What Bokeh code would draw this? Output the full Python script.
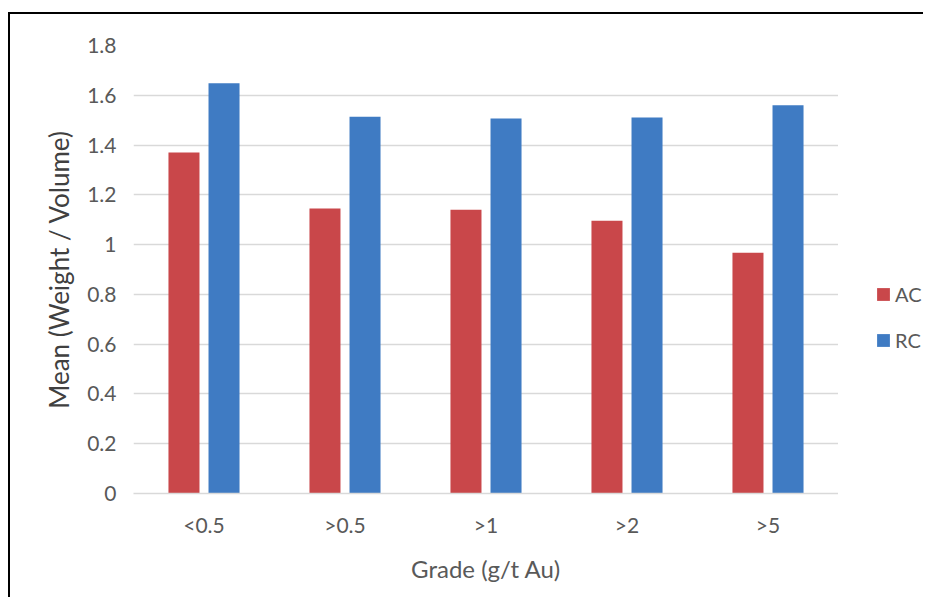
from bokeh.plotting import figure
from bokeh.layouts import row
from bokeh.models import ColumnDataSource, FactorRange, Range1d, FixedTicker, Legend, LegendItem
from bokeh.transform import dodge
from bokeh.embed import file_html
from bokeh.resources import INLINE

categories = ["<0.5", ">0.5", ">1", ">2", ">5"]
ac_values = [1.37, 1.145, 1.14, 1.096, 0.967]
rc_values = [1.648, 1.514, 1.507, 1.511, 1.56]
y_ticks = [0, 0.2, 0.4, 0.6, 0.8, 1, 1.2, 1.4, 1.6, 1.8]
y_tick_labels = ["0", "0.2", "0.4", "0.6", "0.8", "1", "1.2", "1.4", "1.6", "1.8"]
series_names = ["AC", "RC"]
x_title = "Grade (g/t Au)"
y_title = "Mean (Weight / Volume)"

FONT = "Lato"
TEXT = "#595959"
AC_COLOR = "#C9474A"
RC_COLOR = "#3F7BC3"
BORDER_TOP_LEFT = ("linear-gradient(#000,#000) 8px 12px / 2px 100% no-repeat, "
                   "linear-gradient(#000,#000) 8px 12px / 100% 2px no-repeat, #ffffff")
BORDER_TOP = "linear-gradient(#000,#000) 0px 12px / 100% 2px no-repeat, #ffffff"

src = ColumnDataSource(data=dict(cat=categories, ac=ac_values, rc=rc_values))

# ---- main chart ----
p = figure(
    width=838, height=597,
    x_range=FactorRange(*categories, range_padding=0),
    y_range=Range1d(0, 1.8),
    output_backend="svg", toolbar_location=None,
    min_border_left=133, min_border_right=0, min_border_top=45, min_border_bottom=104,
)
p.styles = {"background": BORDER_TOP_LEFT}
p.outline_line_color = None
p.background_fill_color = "white"
p.border_fill_alpha = 0

p.vbar(x=dodge("cat", -0.142, range=p.x_range), top="ac", width=0.22, source=src,
       fill_color=AC_COLOR, line_color=None)
p.vbar(x=dodge("cat", 0.142, range=p.x_range), top="rc", width=0.22, source=src,
       fill_color=RC_COLOR, line_color=None)

p.xgrid.grid_line_color = None
p.ygrid.grid_line_color = "#D9D9D9"
p.ygrid.grid_line_width = 1.5
p.ygrid.ticker = FixedTicker(ticks=y_ticks)

p.yaxis.ticker = FixedTicker(ticks=y_ticks)
p.yaxis.major_label_overrides = {t: l for t, l in zip(y_ticks, y_tick_labels)}
p.yaxis.axis_line_color = None
p.yaxis.major_tick_line_color = None
p.yaxis.minor_tick_line_color = None
p.yaxis.major_label_standoff = 11
p.yaxis.major_label_text_font = FONT
p.yaxis.major_label_text_font_size = "21px"
p.yaxis.major_label_text_color = TEXT
p.yaxis.axis_label = y_title
p.yaxis.axis_label_text_font = FONT
p.yaxis.axis_label_text_font_size = "26px"
p.yaxis.axis_label_text_font_style = "normal"
p.yaxis.axis_label_text_color = "#404040"
p.yaxis.axis_label_standoff = 9

p.xaxis.axis_line_color = "#D9D9D9"
p.xaxis.axis_line_width = 1.5
p.xaxis.major_tick_line_color = None
p.xaxis.minor_tick_line_color = None
p.xaxis.major_label_standoff = 12
p.xaxis.major_label_text_font = FONT
p.xaxis.major_label_text_font_size = "21px"
p.xaxis.major_label_text_color = TEXT
p.xaxis.axis_label = x_title
p.xaxis.axis_label_text_font = FONT
p.xaxis.axis_label_text_font_size = "24px"
p.xaxis.axis_label_text_font_style = "normal"
p.xaxis.axis_label_text_color = TEXT
p.xaxis.axis_label_standoff = 14

# ---- legend panel (its proxy bars have zero width and lie far outside its visible range) ----
p2 = figure(
    width=85, height=597, output_backend="svg", toolbar_location=None,
    x_range=FactorRange(*categories), y_range=Range1d(100, 101),
    x_axis_type=None, y_axis_type=None,
    min_border_left=0, min_border_right=0, min_border_top=0, min_border_bottom=0,
)
p2.styles = {"background": BORDER_TOP}
p2.outline_line_color = None
p2.grid.visible = False
p2.background_fill_alpha = 0
p2.border_fill_alpha = 0
lg_ac = p2.vbar(x="cat", top="ac", width=0, source=src, fill_color=AC_COLOR, line_color=None)
lg_rc = p2.vbar(x="cat", top="rc", width=0, source=src, fill_color=RC_COLOR, line_color=None)

legend = Legend(
    items=[LegendItem(label=series_names[0], renderers=[lg_ac]),
           LegendItem(label=series_names[1], renderers=[lg_rc])],
    location=(37, 141),
    orientation="vertical",
    border_line_color=None,
    background_fill_alpha=0,
    padding=0, margin=0,
    glyph_width=16, glyph_height=16,
    label_height=16, spacing=22, label_standoff=4,
    label_text_font=FONT, label_text_font_size="20px", label_text_color=TEXT,
)
p2.add_layout(legend)

layout = row(p, p2, spacing=0)
open("out.html", "w").write(file_html(layout, INLINE))
